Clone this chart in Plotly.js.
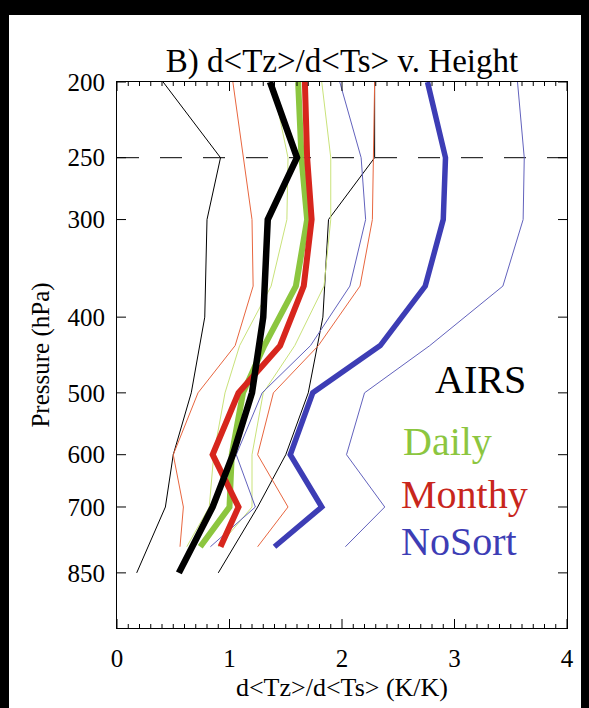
<!DOCTYPE html>
<html>
<head>
<meta charset="utf-8">
<script src="https://cdn.plot.ly/plotly-3.0.1.min.js"></script>
<style>
  html, body { margin: 0; padding: 0; background: #000; width: 589px; height: 708px; overflow: hidden; }
  #chart { position: absolute; left: 9px; top: 15px; width: 572px; height: 693px; background: #fff; }
</style>
</head>
<body>
<div id="chart"></div>
<script>
// Pressure levels (hPa)
const airsLevels = [200, 250, 300, 400, 500, 600, 700, 850];
const modelLevels = [200, 250, 300, 365, 435, 500, 600, 700, 787];

// AIRS regression slope with its bounds
const airsMean  = [1.36, 1.60, 1.34, 1.30, 1.20, 1.03, 0.85, 0.55];
const airsLow   = [0.41, 0.92, 0.80, 0.78, 0.66, 0.50, 0.43, 0.175];
const airsHigh  = [2.29, 2.29, 1.88, 1.83, 1.70, 1.50, 1.25, 0.90];

// Daily-sorted model
const dailyMean = [1.61, 1.64, 1.69, 1.59, 1.31, 1.12, 1.02, 1.00, 0.74];
const dailyLow  = [1.38, 1.52, 1.51, 1.37, 1.09, 0.96, 0.86, 0.82, 0.62];
const dailyHigh = [1.82, 1.90, 1.90, 1.84, 1.58, 1.30, 1.20, 1.20, 0.90];

// Monthly-sorted model
const monthMean = [1.67, 1.69, 1.73, 1.66, 1.45, 1.08, 0.85, 1.08, 0.92];
const monthLow  = [1.03, 1.12, 1.20, 1.21, 1.05, 0.72, 0.50, 0.59, 0.56];
const monthHigh = [2.29, 2.28, 2.27, 2.16, 1.79, 1.39, 1.25, 1.52, 1.25];

// Unsorted model
const nosortMean = [2.76, 2.92, 2.90, 2.74, 2.34, 1.74, 1.54, 1.82, 1.40];
const nosortLow  = [1.98, 2.17, 2.21, 2.07, 1.72, 1.29, 1.06, 1.23, 0.83];
const nosortHigh = [3.56, 3.62, 3.61, 3.43, 2.78, 2.20, 2.04, 2.38, 2.03];

// Reference level marked with a dashed line
const refLevel = [250, 250];
const refSpan = [0, 4];

// Axis ticks
const pTicks = [200, 250, 300, 400, 500, 600, 700, 850];
const pTickText = ['200', '250', '300', '400', '500', '600', '700', '850'];
const xMajor = [0, 1, 2, 3, 4];
const xMinorStep = 0.1;

// Series labels
const seriesNames = ['AIRS', 'Daily', 'Monthy', 'NoSort'];

const FONT = 'Liberation Serif';
const P_RANGE = [3, Math.log10(200)];   // log10(hPa), 1000 at the bottom
const X_RANGE = [0, 4];
const PLOT_W = 450, PLOT_H = 546;

const COLORS = {
  black: '#000000',
  green: '#8cc63f', greenThin: '#c9e27a',
  red: '#d7261d', redThin: '#e8663f',
  blue: '#3d3db5', blueThin: '#6262bd'
};

function profile(x, y, color, width, dash) {
  return {
    x: x, y: y, type: 'scatter', mode: 'lines',
    line: { color: color, width: width, dash: dash || 'solid' },
    showlegend: false
  };
}

const traces = [
  profile(refSpan, refLevel, '#000', 1, '22px,21px'),
  // thin bounds
  profile(airsLow, airsLevels, COLORS.black, 1),
  profile(airsHigh, airsLevels, COLORS.black, 1),
  profile(dailyLow, modelLevels, COLORS.greenThin, 1),
  profile(dailyHigh, modelLevels, COLORS.greenThin, 1),
  profile(monthLow, modelLevels, COLORS.redThin, 1),
  profile(monthHigh, modelLevels, COLORS.redThin, 1),
  profile(nosortLow, modelLevels, COLORS.blueThin, 1),
  profile(nosortHigh, modelLevels, COLORS.blueThin, 1),
  // thick central estimates
  profile(nosortMean, modelLevels, COLORS.blue, 5.5),
  profile(dailyMean, modelLevels, COLORS.green, 6),
  profile(monthMean, modelLevels, COLORS.red, 6),
  profile(airsMean, airsLevels, COLORS.black, 6.5)
];

const labelColors = [COLORS.black, COLORS.green, '#c8261c', COLORS.blue];
const labelX = [2.81, 2.52, 2.51, 2.51];
const labelY = [0.455, 0.342, 0.245, 0.159];

const annotations = seriesNames.map((name, i) => ({
  text: name, xref: 'x', yref: 'paper', x: labelX[i], y: labelY[i],
  xanchor: 'left', yanchor: 'middle', showarrow: false,
  font: { family: FONT, size: 40, color: labelColors[i] }
}));

// Inward tick marks on all four sides of the frame
const tickShapes = [];
function tickLine(x0, x1, y0, y1, xref, yref) {
  tickShapes.push({ type: 'line', xref: xref, yref: yref, x0: x0, x1: x1, y0: y0, y1: y1,
    line: { color: 'black', width: 1 }, layer: 'above' });
}
const nMinor = Math.round((X_RANGE[1] - X_RANGE[0]) / xMinorStep);
for (let i = 0; i <= nMinor; i++) {
  const xv = X_RANGE[0] + i * xMinorStep;
  const isMajor = xMajor.some(m => Math.abs(m - xv) < 1e-9);
  const len = (isMajor ? 9 : 4) / PLOT_H;
  tickLine(xv, xv, 0, len, 'x', 'paper');
  tickLine(xv, xv, 1 - len, 1, 'x', 'paper');
}
pTicks.forEach(p => {
  const fy = (Math.log10(p) - P_RANGE[0]) / (P_RANGE[1] - P_RANGE[0]);
  const len = 9 / PLOT_W;
  tickLine(0, len, fy, fy, 'paper', 'paper');
  tickLine(1 - len, 1, fy, fy, 'paper', 'paper');
});

const layout = {
  width: 572, height: 693,
  margin: { l: 108, r: 14, t: 67, b: 80 },
  font: { family: FONT, color: 'black' },
  title: {
    text: 'B) d&lt;Tz&gt;/d&lt;Ts&gt; v. Height',
    font: { family: FONT, size: 33 },
    x: 0.5, xref: 'paper', xanchor: 'center',
    y: 0.935, yref: 'container', yanchor: 'middle'
  },
  xaxis: {
    range: X_RANGE, showline: true, linecolor: 'black', gridcolor: 'rgba(0,0,0,0)', zerolinecolor: 'black',
    mirror: true, ticks: '', tickmode: 'array', tickvals: xMajor,
    tickfont: { family: FONT, size: 25 }, ticklabelstandoff: 8,
    title: { text: 'd&lt;Tz&gt;/d&lt;Ts&gt; (K/K)', font: { family: FONT, size: 26 }, standoff: 6 }
  },
  yaxis: {
    type: 'log', range: P_RANGE, showline: true, linecolor: 'black', gridcolor: 'rgba(0,0,0,0)',
    mirror: true, ticks: '', tickmode: 'array', tickvals: pTicks, ticktext: pTickText,
    tickfont: { family: FONT, size: 25 }, ticklabelstandoff: 6,
    title: { text: 'Pressure (hPa)', font: { family: FONT, size: 25 }, standoff: 10 }
  },
  shapes: tickShapes,
  annotations: annotations
};

Plotly.newPlot('chart', traces, layout, { displayModeBar: false });
</script>
</body>
</html>
